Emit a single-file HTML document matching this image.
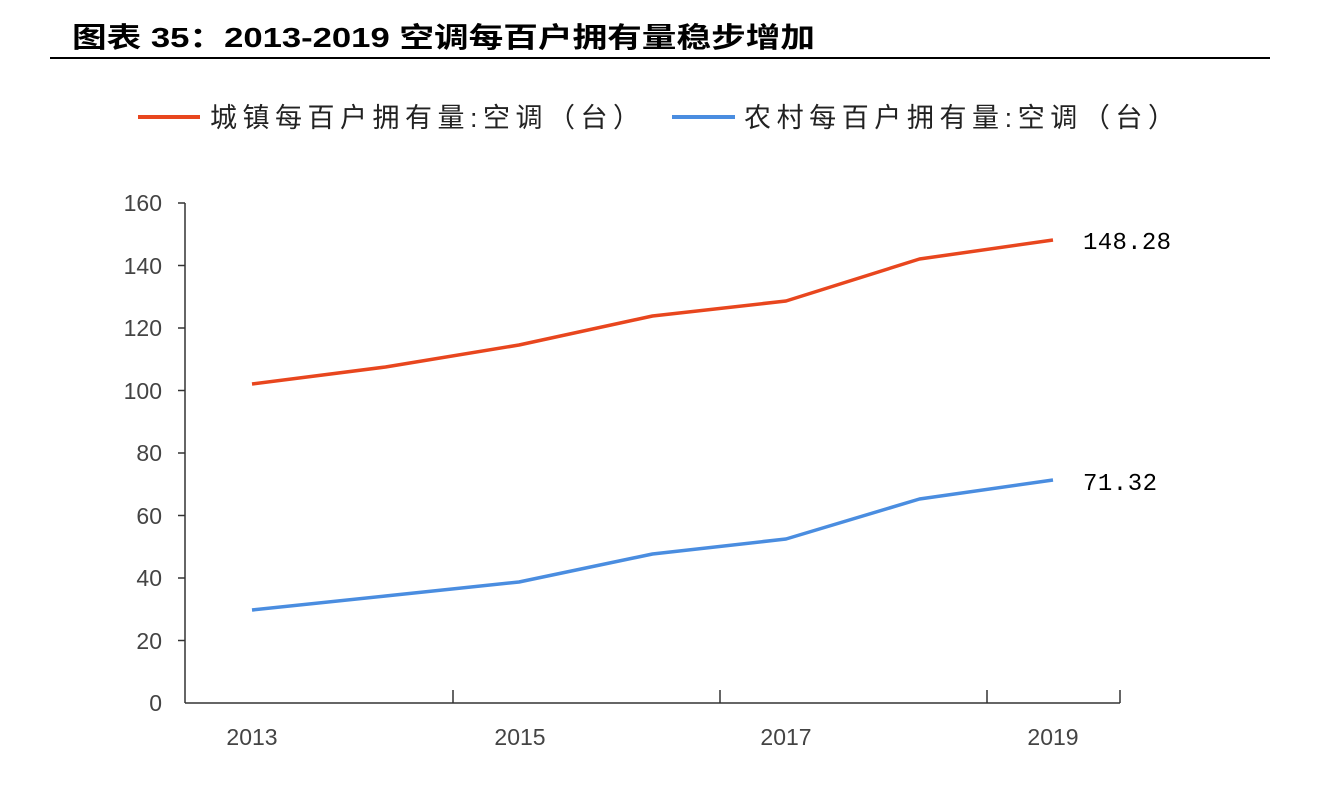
<!DOCTYPE html>
<html><head><meta charset="utf-8"><style>
body{margin:0;background:#fff;width:1318px;height:786px;overflow:hidden}
svg text{font-family:"Liberation Sans","Noto Sans CJK SC",sans-serif}
</style></head><body>
<svg width="1318" height="786" xmlns="http://www.w3.org/2000/svg">
<text x="72" y="47" font-size="28" font-weight="bold" fill="#000" textLength="743" lengthAdjust="spacingAndGlyphs">图表 35：2013-2019 空调每百户拥有量稳步增加</text>
<line x1="50" y1="58" x2="1270" y2="58" stroke="#000" stroke-width="2"/>
<line x1="138" y1="117" x2="200" y2="117" stroke="#e8461e" stroke-width="4"/>
<text x="210" y="127" font-size="27" fill="#222" textLength="430">城镇每百户拥有量:空调（台）</text>
<line x1="672" y1="117" x2="735" y2="117" stroke="#4a8de0" stroke-width="4"/>
<text x="744" y="127" font-size="27" fill="#222" textLength="431">农村每百户拥有量:空调（台）</text>
<g stroke="#333" stroke-width="1.5">
<line x1="185" y1="203" x2="185" y2="703"/>
<line x1="185" y1="703" x2="1120" y2="703"/>
<line x1="178" y1="203" x2="185" y2="203"/><line x1="178" y1="265.5" x2="185" y2="265.5"/>
<line x1="178" y1="328" x2="185" y2="328"/><line x1="178" y1="390.5" x2="185" y2="390.5"/>
<line x1="178" y1="453" x2="185" y2="453"/><line x1="178" y1="515.5" x2="185" y2="515.5"/>
<line x1="178" y1="578" x2="185" y2="578"/><line x1="178" y1="640.5" x2="185" y2="640.5"/>
<line x1="453" y1="690" x2="453" y2="703"/><line x1="720" y1="690" x2="720" y2="703"/>
<line x1="987" y1="690" x2="987" y2="703"/><line x1="1120" y1="690" x2="1120" y2="703"/>
</g>
<g font-size="23" fill="#444" text-anchor="end">
<text x="162" y="211">160</text><text x="162" y="274">140</text><text x="162" y="336">120</text>
<text x="162" y="399">100</text><text x="162" y="461">80</text><text x="162" y="524">60</text>
<text x="162" y="586">40</text><text x="162" y="649">20</text><text x="162" y="711">0</text>
</g>
<g font-size="23" fill="#444" text-anchor="middle">
<text x="252" y="745">2013</text><text x="520" y="745">2015</text>
<text x="786" y="745">2017</text><text x="1053" y="745">2019</text>
</g>
<polyline fill="none" stroke="#e8461e" stroke-width="3.5" stroke-linejoin="round" points="252,384 385.5,367 519,345 652.5,316 786,301 919.5,259 1053,240"/>
<polyline fill="none" stroke="#4a8de0" stroke-width="3.5" stroke-linejoin="round" points="252,610 385.5,596 519,582 652.5,554 786,539 919.5,499 1053,480"/>
<text x="1083" y="249" font-size="24" fill="#000" textLength="88" style="font-family:'Liberation Mono',monospace">148.28</text>
<text x="1083" y="490" font-size="24" fill="#000" textLength="74" style="font-family:'Liberation Mono',monospace">71.32</text>
</svg>
</body></html>
